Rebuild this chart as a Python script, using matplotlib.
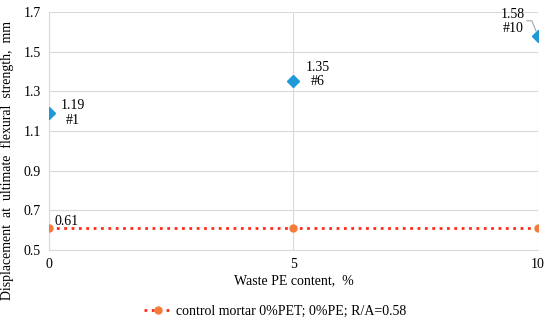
import matplotlib
matplotlib.use("Agg")
import matplotlib.pyplot as plt

plt.rcParams['font.family'] = ['Liberation Serif', 'DejaVu Serif']

# data
pe_content = [0, 5, 10]
displacement = [1.19, 1.35, 1.58]
mix_labels = ["#1", "#6", "#10"]
control_x = [0, 5, 10]
control_y = [0.61, 0.61, 0.61]

fs = 10

fig = plt.figure(figsize=(5.5, 3.21), dpi=100)
ax = fig.add_axes([0.089, 0.221, 0.889, 0.742])

ax.plot(control_x, control_y, linestyle=':', color='#ff2a1a', linewidth=2,
        marker='o', markersize=5, markerfacecolor='#f47b3a', markeredgecolor='#f47b3a',
        label='control mortar 0%PET; 0%PE; R/A=0.58', zorder=3)
ax.plot(pe_content, displacement, linestyle='none', marker='D', markersize=6,
        color='#1f9ad6', zorder=4)

# data labels
ax.annotate(f"{displacement[0]:.2f}\n{mix_labels[0]}", (pe_content[0], displacement[0]),
            xytext=(12, 0), textcoords='offset pixels', fontsize=fs, linespacing=1.15,
            ha='left', va='center', multialignment='center')
ax.annotate(f"{displacement[1]:.2f}\n{mix_labels[1]}", (pe_content[1], displacement[1]),
            xytext=(12, 7), textcoords='offset pixels', fontsize=fs, linespacing=1.15,
            ha='left', va='center', multialignment='center')
ax.annotate(f"{displacement[2]:.2f}\n{mix_labels[2]}", (pe_content[2], displacement[2]),
            xytext=(-13, 14), textcoords='offset pixels', fontsize=fs, linespacing=1.15,
            ha='right', va='center', multialignment='center')
ax.plot([9.775, 9.877, 9.96], [1.655, 1.655, 1.604], color='#a6a6a6', linewidth=0.8)
ax.annotate(f"{control_y[0]:.2f}", (control_x[0], control_y[0]),
            xytext=(6, 7), textcoords='offset pixels', fontsize=fs, va='center')

ax.set_xlim(0, 10)
ax.set_ylim(0.5, 1.7)
ax.set_xticks([0, 5, 10])
ax.set_yticks([0.5, 0.7, 0.9, 1.1, 1.3, 1.5, 1.7])
ax.set_yticklabels(["0.5", "0.7", "0.9", "1.1", "1.3", "1.5", "1.7"])
ax.grid(True, color='#d9d9d9', linewidth=0.8)
ax.set_axisbelow(True)
for s in ['top', 'right']:
    ax.spines[s].set_visible(False)
for s in ['left', 'bottom']:
    ax.spines[s].set_color('#d9d9d9')
ax.tick_params(length=0, labelsize=fs, pad=6)

ax.set_xlabel("Waste PE content,  %", fontsize=fs, labelpad=2)
ax.set_ylabel("Displacement  at  ultimate  flexural  strength,  mm", fontsize=9.9)
ax.yaxis.set_label_coords(-0.071, 0.375)

fig.legend(loc='lower center', bbox_to_anchor=(0.5, -0.03), frameon=False, fontsize=fs,
           handlelength=2, handletextpad=0.3)

fig.savefig("out.png", dpi=100)
